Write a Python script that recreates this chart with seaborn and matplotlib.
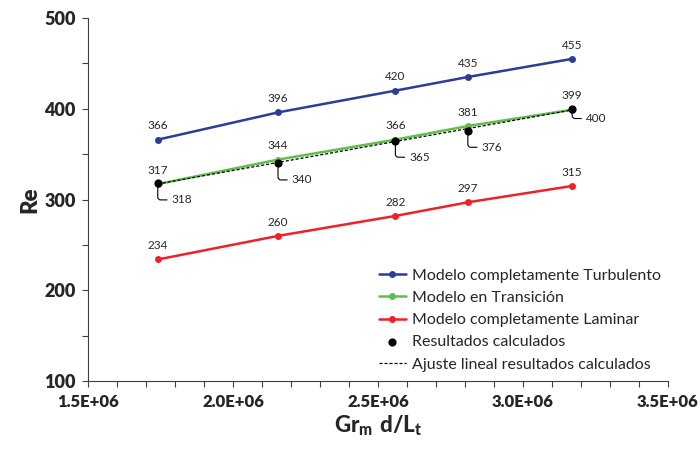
import numpy as np
import pandas as pd
import matplotlib
matplotlib.use("Agg")
import matplotlib.pyplot as plt
import seaborn as sns
from matplotlib.ticker import MultipleLocator, FuncFormatter

# datos
gr_d_lt = [1.74e6, 2.155e6, 2.56e6, 2.81e6, 3.17e6]
re_turbulento = [366, 396, 420, 435, 455]
re_transicion = [317, 344, 366, 381, 399]
re_laminar = [234, 260, 282, 297, 315]
re_calculado = [318, 340, 365, 376, 400]

modelos = ["Modelo completamente Turbulento", "Modelo en Transición", "Modelo completamente Laminar"]
colores = ["#2B3C9B", "#62BE48", "#EE2226"]

sns.set_theme(style="ticks")
plt.rcParams["font.family"] = ["Lato", "DejaVu Sans"]
plt.rcParams["mathtext.fontset"] = "custom"
plt.rcParams["mathtext.bf"] = "Lato:black"
plt.rcParams["mathtext.rm"] = "Lato:bold"

df = pd.DataFrame({
    "x": gr_d_lt * 3,
    "Re": re_turbulento + re_transicion + re_laminar,
    "modelo": [m for m in modelos for _ in gr_d_lt],
})

fig = plt.figure(figsize=(7, 4.5), dpi=100)
ax = fig.add_axes([0.126, 0.153, 0.828, 0.807])

sns.lineplot(data=df, x="x", y="Re", hue="modelo", hue_order=modelos, palette=colores,
             marker="o", markersize=5, markeredgewidth=0, linewidth=1.8, ax=ax, zorder=2)

ax.scatter(gr_d_lt, re_calculado, s=24, color="black", zorder=4, label="Resultados calculados")

# ajuste lineal de los resultados calculados
m, b = np.polyfit(gr_d_lt, re_calculado, 1)
xf = np.array([gr_d_lt[0], gr_d_lt[-1]])
ax.plot(xf, m * xf + b, color="black", linestyle=(0, (2.5, 1.5)), linewidth=0.9, zorder=3,
        label="Ajuste lineal resultados calculados")

# etiquetas de valores
for serie in (re_turbulento, re_transicion, re_laminar):
    for xv, yv in zip(gr_d_lt, serie):
        ax.annotate(str(yv), (xv, yv), xytext=(0, 6), textcoords="offset points",
                    ha="center", va="bottom", fontsize=8.5)

for i, (xv, yv) in enumerate(zip(gr_d_lt, re_calculado)):
    off = (10, -12) if i < 4 else (10, -7)
    ax.annotate(str(yv), (xv, yv), xytext=off, textcoords="offset points",
                ha="left", va="center", fontsize=8.5,
                arrowprops=dict(arrowstyle="-", color="black", lw=0.8, shrinkA=1, shrinkB=3,
                                connectionstyle="angle,angleA=0,angleB=90,rad=3"))

ax.set_xlim(1.5e6, 3.5e6)
ax.set_ylim(100, 500)
ax.xaxis.set_major_locator(MultipleLocator(0.5e6))
ax.xaxis.set_minor_locator(MultipleLocator(0.1e6))
ax.yaxis.set_major_locator(MultipleLocator(100))
ax.yaxis.set_minor_locator(MultipleLocator(50))
ax.xaxis.set_major_formatter(FuncFormatter(lambda v, p: f"{v:.1E}"))
ax.tick_params(which="both", direction="out", length=4, width=0.8, color="#404040")
ax.tick_params(axis="y", which="major", labelsize=13, pad=5)
ax.tick_params(axis="x", which="major", labelsize=12, pad=5)
for lab in ax.get_xticklabels() + ax.get_yticklabels():
    lab.set_fontweight("heavy")

sns.despine(ax=ax)
for s in ("left", "bottom"):
    ax.spines[s].set_color("#404040")
    ax.spines[s].set_linewidth(0.8)

ax.set_ylabel("Re", fontsize=16, fontweight="heavy", labelpad=3)
ax.set_xlabel(r"$\mathbf{Gr_m\ d/L_t}$", fontsize=16, labelpad=3)

ax.legend(loc="lower right", bbox_to_anchor=(1.005, 0.0), frameon=False, fontsize=11.5,
          handlelength=1.7, handletextpad=0.4, labelspacing=0.5, borderaxespad=0.2)

fig.savefig("out.png", dpi=100)
